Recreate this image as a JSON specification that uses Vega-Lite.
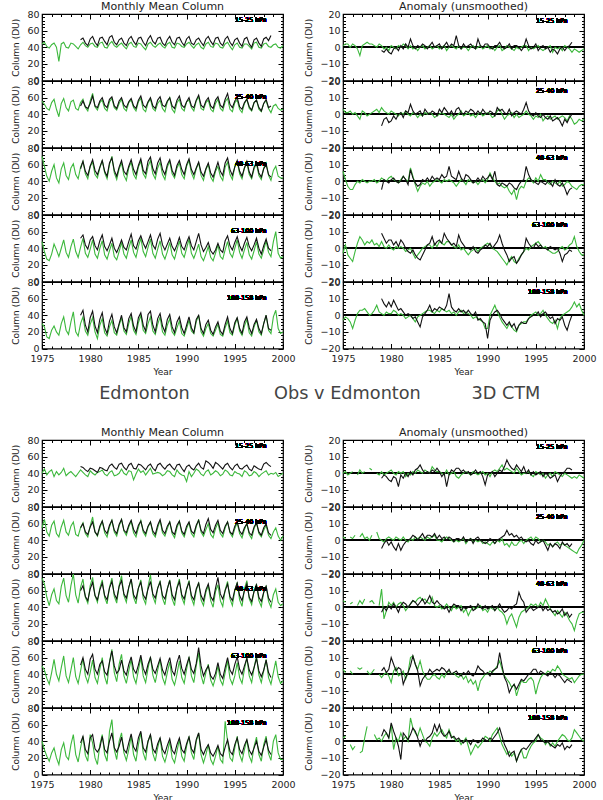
{
"$schema":"https://vega.github.io/schema/vega-lite/v6.json",
"padding":{"left":10,"top":0,"right":0,"bottom":0},
"config":{
"font":"DejaVu Sans",
"view":{"stroke":"#000","strokeWidth":1.2},
"line":{"color":"#3cb83c","strokeWidth":1.1},
"text":{"fontSize":6.3,"align":"right","baseline":"middle","color":"#000"},
"rule":{"color":"#000","strokeWidth":1},
"title":{"fontSize":11,"fontWeight":"normal","frame":"group","offset":-3,"color":"#222"},
"axis":{"domain":false,"grid":false,"tickColor":"#000","tickWidth":1,"labelColor":"#222","labelFontSize":9.5,"titleColor":"#222","titleFontSize":9,"titleFontWeight":"normal","labelFlush":false,"labelOverlap":false},
"axisX":{"tickCount":25,"format":"d","tickSize":{"condition":{"test":"datum.value % 5 === 0","value":-5},"value":-2.5},"labelExpr":"datum.value % 5 === 0 ? datum.label : ''","labelPadding":10,"titlePadding":2},
"axisY":{"tickSize":{"condition":{"test":"datum.value % 10 === 0","value":-5},"value":-2.5},"labelExpr":"datum.value % 10 === 0 ? datum.label : ''","labelPadding":8,"titlePadding":6.5}
},
"data":{"values":[
{"t":1975,"A":44,"B":56,"C":70,"D":48,"E":30,"F":1,"G":3,"H":6,"I":-3,"J":-3,"K":40,"L":55,"M":75,"N":50,"O":40,"P":0,"Q":2,"R":4,"S":3,"U":2},
{"t":1975.25,"A":46,"B":52,"C":58,"D":36,"E":26,"F":2,"G":1,"H":1,"I":2,"J":-1,"K":45,"L":65,"M":68,"N":45,"O":30,"P":1,"Q":1,"R":3,"S":1,"U":3},
{"t":1975.5,"A":41,"B":47,"C":46,"D":27,"E":14,"F":2,"G":1,"H":-3,"I":-4,"J":-2,"K":38,"L":50,"M":52,"N":35,"O":22,"P":-1},
{"t":1975.75,"A":39,"B":45,"C":40,"D":25,"E":12,"F":0,"G":2,"H":-5,"I":-6,"J":-4,"K":42,"L":45,"M":42,"N":28,"O":16,"P":0,"Q":2,"R":2,"S":2,"U":-2},
{"t":1976,"A":43,"B":54,"C":52,"D":33,"E":22,"F":2,"G":0,"H":-5,"I":-8,"J":-8,"K":44,"L":58,"M":55,"N":42,"O":26,"P":1,"Q":1,"R":3,"S":0,"U":-5},
{"t":1976.25,"A":45,"B":58,"C":60,"D":45,"E":27,"F":1,"G":1,"H":-2,"I":-2,"J":-3,"K":36,"L":63,"M":62,"N":58,"O":32,"Q":3,"U":-3},
{"t":1976.5,"A":40,"B":46,"C":44,"D":38,"E":20,"F":-1,"G":-1,"H":0,"I":3,"J":1,"K":42,"L":48,"M":48,"N":40,"O":20,"P":-1,"R":1,"S":4},
{"t":1976.75,"A":23,"B":37,"C":38,"D":30,"E":16,"F":-5,"G":-3,"H":-1,"I":7,"J":3,"K":38,"L":44,"M":44,"N":32,"O":12,"P":2,"Q":2,"R":4,"S":3,"U":-7},
{"t":1977,"A":44,"B":53,"C":55,"D":40,"E":30,"F":1,"G":2,"H":1,"I":5,"J":3,"K":41,"L":56,"M":65,"N":48,"O":30,"P":0,"Q":4,"R":2,"S":4,"U":-6},
{"t":1977.25,"A":46,"B":59,"C":62,"D":50,"E":38,"F":2,"G":1,"H":0,"I":2,"J":4,"K":46,"L":64,"M":75,"N":62,"O":38,"P":1,"Q":1,"R":5,"U":2},
{"t":1977.5,"A":40,"B":48,"C":47,"D":35,"E":22,"F":3,"G":-1,"H":-1,"I":4,"J":2,"K":37,"L":50,"M":54,"N":38,"O":22,"Q":2,"S":2,"U":9},
{"t":1977.75,"A":39,"B":44,"C":42,"D":29,"E":17,"F":2,"G":0,"H":0,"I":3,"J":0,"K":40,"L":46,"M":46,"N":30,"O":18,"P":3,"Q":0,"R":3,"S":0},
{"t":1978,"A":45,"B":55,"C":56,"D":42,"E":32,"F":2,"G":1,"H":0,"I":5,"J":1,"K":42,"L":57,"M":66,"N":45,"O":36,"P":2,"Q":3,"R":4,"S":1},
{"t":1978.25,"A":44,"B":57,"C":61,"D":51,"E":44,"F":1,"G":2,"H":1,"I":2,"J":3,"K":39,"L":62,"M":80,"N":60,"O":48,"R":2,"S":3,"U":4},
{"t":1978.5,"A":41,"B":47,"C":48,"D":36,"E":20,"F":0,"G":3,"H":-1,"I":3,"J":6,"K":36,"L":47,"M":55,"N":37,"O":24,"P":0,"Q":5,"U":1},
{"t":1978.75,"A":38,"B":45,"C":43,"D":29,"E":15,"F":2,"G":1,"H":0,"I":1,"J":2,"K":40,"L":45,"M":45,"N":29,"O":15,"P":-1,"Q":1,"R":1,"S":0,"U":2},
{"t":1979,"A":43,"B":54,"C":57,"D":41,"E":30,"F":1,"G":4,"H":2,"I":4,"J":1,"K":44,"L":55,"M":64,"N":44,"O":32,"P":1,"Q":0,"R":11,"S":-2,"U":0,"a":49,"b":50,"c":55,"d":52,"e":40,"f":-2,"g":-7,"h":-5,"i":9,"j":10,"k":48,"l":55,"m":60,"n":51,"o":38,"p":-3,"q":-5,"r":-3,"s":2,"u":3},
{"t":1979.25,"A":46,"B":58,"C":64,"D":52,"E":38,"F":-1,"G":2,"H":1,"I":1,"J":0,"K":41,"L":61,"M":74,"N":59,"O":46,"P":-1,"Q":-1,"R":-7,"S":0,"U":3,"a":51,"b":56,"c":64,"d":56,"e":46,"f":-3,"g":-3,"h":1,"i":6,"j":7,"k":47,"l":60,"m":66,"n":60,"o":46,"p":-1,"q":-2,"r":0,"s":4,"u":7},
{"t":1979.5,"A":42,"B":48,"C":49,"D":34,"E":21,"F":0,"G":1,"H":0,"I":0,"J":2,"K":38,"L":48,"M":52,"N":38,"O":23,"P":0,"Q":1,"R":-2,"S":1,"U":5,"a":45,"b":49,"c":52,"d":44,"e":28,"f":-1,"g":-2,"h":0,"i":3,"j":5,"k":44,"l":50,"m":53,"n":46,"o":30,"p":-2,"q":0,"r":-2,"s":1,"u":5},
{"t":1979.75,"A":40,"B":44,"C":43,"D":29,"E":16,"F":-2,"G":0,"H":2,"I":2,"J":1,"K":36,"L":44,"M":45,"N":30,"O":16,"P":1,"Q":2,"R":3,"S":-1,"U":2,"a":42,"b":47,"c":47,"d":39,"e":20,"f":-3,"g":-5,"h":-1,"i":5,"j":8,"k":42,"l":47,"m":48,"n":40,"o":25,"p":-4,"q":-3,"r":1,"s":3,"u":2},
{"t":1980,"A":44,"B":56,"C":58,"D":39,"E":29,"F":1,"G":2,"H":3,"I":0,"J":1,"K":43,"L":57,"M":66,"N":42,"O":48,"P":2,"Q":1,"R":1,"S":-5,"U":10,"a":50,"b":53,"c":58,"d":50,"e":37,"f":-4,"g":-4,"h":1,"i":5,"j":5,"k":46,"l":56,"m":62,"n":58,"o":44,"p":-5,"q":-1,"r":-1,"s":10,"u":11},
{"t":1980.25,"A":45,"B":65,"C":63,"D":50,"E":37,"F":0,"G":1,"H":1,"I":-1,"J":3,"K":40,"L":68,"M":76,"N":57,"O":38,"P":0,"Q":0,"R":3,"S":2,"U":-5,"a":53,"b":62,"c":66,"d":54,"e":45,"f":-1,"g":-1,"h":2,"i":2,"j":9,"k":45,"l":62,"m":70,"n":64,"o":48,"p":-2,"q":-4,"r":2,"s":6,"u":6},
{"t":1980.5,"A":41,"B":49,"C":48,"D":33,"E":20,"F":-1,"G":0,"H":0,"I":1,"J":2,"K":38,"L":50,"M":54,"N":36,"O":20,"P":-1,"Q":2,"R":0,"S":4,"U":2,"a":46,"b":50,"c":53,"d":43,"e":27,"f":0,"g":-3,"h":0,"i":4,"j":6,"k":43,"l":50,"m":54,"n":46,"o":31,"p":-3,"q":-6,"r":0,"s":2,"u":2},
{"t":1980.75,"A":40,"B":45,"C":44,"D":28,"E":12,"F":1,"G":-1,"H":-1,"I":0,"J":0,"K":41,"L":45,"M":46,"N":29,"O":12,"P":1,"Q":1,"R":2,"S":-1,"U":0,"a":42,"b":48,"c":48,"d":38,"e":19,"f":-2,"g":0,"h":-1,"i":1,"j":3,"k":41,"l":46,"m":49,"n":40,"o":27,"p":-8,"q":-2,"r":-3,"s":4,"u":-3},
{"t":1981,"A":45,"B":54,"C":56,"D":40,"E":28,"F":0,"G":1,"H":1,"I":1,"J":1,"K":42,"L":55,"M":63,"N":46,"O":36,"P":0,"Q":0,"R":3,"S":0,"U":5,"a":51,"b":56,"c":57,"d":49,"e":35,"f":1,"g":1,"h":0,"i":5,"j":4,"k":47,"l":57,"m":61,"n":52,"o":32,"p":-1,"q":-6,"r":1,"s":3,"u":-11},
{"t":1981.25,"A":46,"B":57,"C":65,"D":49,"E":36,"F":2,"G":0,"H":3,"I":0,"J":0,"K":44,"L":63,"M":73,"N":60,"O":48,"P":1,"Q":2,"R":1,"S":2,"U":1,"a":52,"b":60,"c":65,"d":56,"e":43,"f":-1,"g":-2,"h":3,"i":3,"j":2,"k":46,"l":63,"m":69,"n":56,"o":46,"p":-3,"q":-3,"r":3,"s":-6,"u":5},
{"t":1981.5,"A":40,"B":47,"C":50,"D":32,"E":19,"F":1,"G":2,"H":1,"I":-2,"J":-2,"K":39,"L":49,"M":52,"N":37,"O":24,"P":-2,"Q":0,"R":-2,"S":-3,"U":3,"a":47,"b":51,"c":52,"d":42,"e":25,"f":2,"g":2,"h":1,"i":0,"j":0,"k":44,"l":52,"m":54,"n":43,"o":30,"p":0,"q":-1,"r":2,"s":-2,"u":3},
{"t":1981.75,"A":39,"B":44,"C":43,"D":27,"E":15,"F":-1,"G":0,"H":0,"I":-1,"J":-1,"K":37,"L":44,"M":44,"N":28,"O":16,"P":0,"Q":-1,"R":0,"S":1,"U":0,"a":43,"b":48,"c":46,"d":37,"e":18,"f":0,"g":1,"h":-2,"i":-2,"j":1,"k":43,"l":48,"m":49,"n":39,"o":26,"p":-2,"q":0,"r":0,"s":1,"u":1},
{"t":1982,"A":44,"B":55,"C":60,"D":37,"E":26,"F":1,"G":-1,"H":8,"I":0,"J":0,"K":41,"L":56,"M":64,"N":55,"O":52,"P":-1,"Q":1,"R":2,"S":10,"U":14,"a":52,"b":58,"c":62,"d":44,"e":33,"f":5,"g":6,"h":7,"i":-3,"j":0,"k":49,"l":58,"m":63,"n":54,"o":40,"p":1,"q":1,"r":2,"s":5,"u":4},
{"t":1982.25,"A":47,"B":59,"C":70,"D":46,"E":34,"F":-1,"G":1,"H":3,"I":-3,"J":-2,"K":43,"L":64,"M":75,"N":70,"O":66,"P":1,"Q":0,"R":4,"S":11,"U":8,"a":54,"b":61,"c":68,"d":52,"e":41,"f":1,"g":2,"h":2,"i":-1,"j":-2,"k":51,"l":64,"m":71,"n":68,"o":50,"p":-1,"q":3,"r":4,"s":11,"u":8},
{"t":1982.5,"A":42,"B":48,"C":50,"D":30,"E":19,"F":0,"G":0,"H":-2,"I":-6,"J":-4,"K":37,"L":50,"M":53,"N":42,"O":30,"P":0,"Q":2,"R":3,"S":6,"U":5,"a":46,"b":50,"c":53,"d":40,"e":26,"f":-1,"g":0,"h":-1,"i":-4,"j":-1,"k":47,"l":52,"m":56,"n":50,"o":32,"p":2,"q":2,"r":3,"s":6,"u":6},
{"t":1982.75,"A":40,"B":45,"C":42,"D":26,"E":16,"F":-2,"G":-2,"H":-6,"I":-4,"J":-1,"K":38,"L":45,"M":45,"N":31,"O":18,"P":2,"Q":1,"R":5,"S":3,"U":3,"a":43,"b":47,"c":46,"d":35,"e":19,"f":1,"g":1,"h":-3,"i":-6,"j":-4,"k":45,"l":48,"m":50,"n":41,"o":27,"p":3,"q":0,"r":1,"s":2,"u":2},
{"t":1983,"A":43,"B":53,"C":55,"D":36,"E":28,"F":0,"G":0,"H":-3,"I":-2,"J":0,"K":40,"L":57,"M":66,"N":52,"O":40,"P":1,"Q":2,"R":6,"S":8,"U":8,"a":49,"b":56,"c":57,"d":42,"e":30,"f":0,"g":2,"h":-2,"i":-7,"j":-7,"k":51,"l":59,"m":65,"n":45,"o":34,"p":5,"q":2,"r":3,"s":-7,"u":-3},
{"t":1983.25,"A":45,"B":58,"C":62,"D":47,"E":37,"F":1,"G":-1,"H":-1,"I":0,"J":1,"K":45,"L":65,"M":78,"N":64,"O":50,"P":0,"Q":1,"R":4,"S":2,"U":4,"a":51,"b":60,"c":65,"d":50,"e":40,"f":2,"g":-1,"h":1,"i":-4,"j":-1,"k":52,"l":65,"m":72,"n":57,"o":45,"p":2,"q":4,"r":5,"s":-3,"u":1},
{"t":1983.5,"A":41,"B":47,"C":47,"D":33,"E":21,"F":-1,"G":1,"H":-2,"I":1,"J":2,"K":40,"L":51,"M":54,"N":38,"O":26,"P":2,"Q":0,"R":5,"S":-1,"U":0,"a":45,"b":51,"c":52,"d":41,"e":25,"f":1,"g":3,"h":0,"i":-1,"j":1,"k":47,"l":52,"m":56,"n":44,"o":30,"p":0,"q":1,"r":2,"s":-1,"u":0},
{"t":1983.75,"A":38,"B":44,"C":41,"D":28,"E":17,"F":0,"G":0,"H":0,"I":2,"J":3,"K":38,"L":46,"M":46,"N":29,"O":17,"P":1,"Q":2,"R":3,"S":-3,"U":-1,"a":42,"b":48,"c":48,"d":38,"e":20,"f":-1,"g":1,"h":2,"i":2,"j":3,"k":44,"l":49,"m":51,"n":39,"o":26,"p":1,"q":3,"r":4,"s":0,"u":2},
{"t":1984,"A":44,"B":54,"C":56,"D":40,"E":30,"F":1,"G":1,"H":-3,"I":2,"J":3,"K":43,"L":56,"M":64,"N":44,"O":30,"P":0,"Q":1,"R":2,"S":-3,"U":-3,"a":50,"b":55,"c":58,"d":48,"e":36,"f":1,"g":0,"h":0,"i":3,"j":6,"k":50,"l":58,"m":64,"n":52,"o":38,"p":0,"q":3,"r":7,"s":3,"u":3},
{"t":1984.25,"A":46,"B":57,"C":63,"D":50,"E":39,"F":-1,"G":0,"H":-1,"I":0,"J":2,"K":42,"L":63,"M":74,"N":58,"O":46,"P":4,"Q":2,"R":6,"S":-1,"U":2,"a":53,"b":59,"c":66,"d":57,"e":42,"f":3,"g":2,"h":3,"i":7,"j":2,"k":52,"l":64,"m":74,"n":61,"o":49,"p":2,"q":2,"r":3,"s":1,"u":5},
{"t":1984.5,"A":41,"B":48,"C":48,"D":35,"E":22,"F":0,"G":-2,"H":0,"I":3,"J":1,"K":32,"L":49,"M":52,"N":37,"O":24,"P":2,"Q":3,"R":1,"S":0,"U":5,"a":47,"b":50,"c":54,"d":43,"e":27,"f":0,"g":1,"h":1,"i":2,"j":4,"k":46,"l":53,"m":55,"n":46,"o":33,"p":1,"q":4,"r":2,"s":2,"u":10},
{"t":1984.75,"A":40,"B":44,"C":43,"D":29,"E":17,"F":1,"G":-1,"H":1,"I":1,"J":3,"K":39,"L":44,"M":44,"N":29,"O":16,"P":1,"Q":0,"R":0,"S":-2,"U":3,"a":43,"b":47,"c":48,"d":39,"e":20,"f":1,"g":-1,"h":2,"i":4,"j":3,"k":45,"l":48,"m":50,"n":41,"o":28,"p":3,"q":1,"r":4,"s":3,"u":6},
{"t":1985,"A":45,"B":55,"C":57,"D":42,"E":31,"F":-1,"G":0,"H":0,"I":4,"J":2,"K":45,"L":55,"M":63,"N":45,"O":36,"P":1,"Q":0,"R":1,"S":-3,"U":5,"a":51,"b":57,"c":59,"d":49,"e":37,"f":2,"g":3,"h":1,"i":5,"j":5,"k":51,"l":58,"m":63,"n":51,"o":44,"p":1,"q":3,"r":2,"s":2,"u":10},
{"t":1985.25,"A":44,"B":59,"C":64,"D":52,"E":40,"F":0,"G":1,"H":-1,"I":3,"J":4,"K":41,"L":64,"M":73,"N":60,"O":50,"P":0,"Q":-1,"R":-1,"S":0,"U":7,"a":52,"b":62,"c":67,"d":55,"e":43,"f":-1,"g":1,"h":4,"i":3,"j":4,"k":50,"l":63,"m":70,"n":63,"o":52,"p":-2,"q":1,"r":1,"s":4,"u":5},
{"t":1985.5,"A":40,"B":46,"C":49,"D":36,"E":22,"F":1,"G":0,"H":1,"I":2,"J":3,"K":43,"L":50,"M":51,"N":38,"O":26,"P":-1,"Q":1,"R":0,"S":-2,"U":4,"a":46,"b":51,"c":53,"d":46,"e":28,"f":1,"g":4,"h":2,"i":9,"j":3,"k":47,"l":52,"m":55,"n":47,"o":32,"p":0,"q":2,"r":-1,"s":3,"u":3},
{"t":1985.75,"A":37,"B":43,"C":44,"D":30,"E":18,"F":-2,"G":-1,"H":0,"I":4,"J":2,"K":38,"L":45,"M":44,"N":30,"O":17,"P":2,"Q":2,"R":2,"S":1,"U":2,"a":42,"b":48,"c":49,"d":40,"e":21,"f":3,"g":2,"h":3,"i":6,"j":6,"k":44,"l":48,"m":50,"n":40,"o":27,"p":-8,"q":0,"r":0,"s":1,"u":4},
{"t":1986,"A":44,"B":54,"C":58,"D":41,"E":30,"F":0,"G":-2,"H":1,"I":4,"J":3,"K":42,"L":56,"M":65,"N":47,"O":40,"P":-1,"Q":1,"R":0,"S":2,"U":7,"a":50,"b":55,"c":64,"d":48,"e":41,"f":0,"g":0,"h":9,"i":4,"j":13,"k":49,"l":57,"m":62,"n":52,"o":40,"p":-1,"q":2,"r":-3,"s":3,"u":6},
{"t":1986.25,"A":46,"B":58,"C":65,"D":51,"E":38,"F":1,"G":0,"H":0,"I":2,"J":1,"K":46,"L":62,"M":79,"N":61,"O":48,"P":0,"Q":0,"R":-2,"S":0,"U":3,"a":54,"b":60,"c":69,"d":56,"e":45,"f":2,"g":2,"h":3,"i":2,"j":5,"k":51,"l":62,"m":71,"n":60,"o":48,"p":2,"q":1,"r":0,"s":0,"u":2},
{"t":1986.5,"A":42,"B":47,"C":49,"D":34,"E":21,"F":0,"G":-3,"H":-1,"I":1,"J":2,"K":39,"L":48,"M":53,"N":39,"O":25,"P":1,"Q":-1,"R":1,"S":1,"U":2,"a":47,"b":50,"c":55,"d":44,"e":28,"f":1,"g":-1,"h":2,"i":3,"j":3,"k":46,"l":51,"m":56,"n":46,"o":31,"p":1,"q":-1,"r":2,"s":1,"u":3},
{"t":1986.75,"A":40,"B":44,"C":43,"D":28,"E":17,"F":-1,"G":-1,"H":-3,"I":0,"J":0,"K":40,"L":44,"M":45,"N":30,"O":16,"P":-2,"Q":0,"R":-1,"S":-1,"U":0,"a":44,"b":47,"c":49,"d":39,"e":20,"f":7,"g":3,"h":1,"i":1,"j":2,"k":43,"l":47,"m":51,"n":41,"o":26,"p":3,"q":1,"r":1,"s":2,"u":1},
{"t":1987,"A":43,"B":53,"C":56,"D":39,"E":29,"F":1,"G":0,"H":-1,"I":2,"J":2,"K":41,"L":55,"M":63,"N":45,"O":32,"P":-3,"Q":-1,"R":0,"S":-2,"U":1,"a":51,"b":57,"c":62,"d":51,"e":36,"f":1,"g":4,"h":6,"i":8,"j":4,"k":50,"l":58,"m":63,"n":50,"o":37,"p":3,"q":1,"r":1,"s":0,"u":2},
{"t":1987.25,"A":45,"B":57,"C":63,"D":49,"E":38,"F":-1,"G":2,"H":1,"I":-1,"J":3,"K":40,"L":64,"M":72,"N":58,"O":44,"P":-1,"Q":0,"R":1,"S":0,"U":-2,"a":52,"b":61,"c":68,"d":58,"e":42,"f":-1,"g":1,"h":2,"i":4,"j":2,"k":52,"l":65,"m":70,"n":59,"o":44,"p":1,"q":0,"r":-2,"s":-1,"u":0},
{"t":1987.5,"A":41,"B":47,"C":48,"D":33,"E":20,"F":0,"G":-1,"H":0,"I":0,"J":1,"K":37,"L":49,"M":51,"N":36,"O":22,"P":0,"Q":1,"R":-3,"S":-3,"U":0,"a":45,"b":51,"c":54,"d":44,"e":27,"f":2,"g":0,"h":0,"i":2,"j":3,"k":48,"l":52,"m":54,"n":45,"o":30,"p":2,"q":2,"r":0,"s":1,"u":-1},
{"t":1987.75,"A":39,"B":43,"C":42,"D":27,"E":16,"F":0,"G":0,"H":-2,"I":-2,"J":2,"K":39,"L":45,"M":43,"N":28,"O":15,"P":1,"Q":-2,"R":-1,"S":-1,"U":2,"a":42,"b":49,"c":48,"d":38,"e":20,"f":0,"g":2,"h":4,"i":0,"j":1,"k":45,"l":48,"m":50,"n":39,"o":25,"p":0,"q":-1,"r":-1,"s":0,"u":1},
{"t":1988,"A":44,"B":55,"C":57,"D":36,"E":28,"F":-2,"G":1,"H":1,"I":-4,"J":1,"K":43,"L":54,"M":62,"N":42,"O":26,"P":0,"Q":0,"R":-5,"S":-5,"U":-3,"a":49,"b":56,"c":60,"d":45,"e":35,"f":1,"g":1,"h":3,"i":0,"j":3,"k":49,"l":57,"m":62,"n":51,"o":35,"p":1,"q":0,"r":0,"s":2,"u":0},
{"t":1988.25,"A":46,"B":60,"C":64,"D":47,"E":36,"F":0,"G":-1,"H":0,"I":-2,"J":0,"K":42,"L":62,"M":73,"N":55,"O":40,"P":-1,"Q":1,"R":-2,"S":-3,"U":-8,"a":53,"b":60,"c":66,"d":52,"e":41,"f":2,"g":3,"h":1,"i":-1,"j":1,"k":51,"l":62,"m":72,"n":60,"o":43,"p":-1,"q":1,"r":1,"s":0,"u":-2},
{"t":1988.5,"A":40,"B":46,"C":49,"D":32,"E":20,"F":1,"G":0,"H":-1,"I":-1,"J":-2,"K":38,"L":48,"M":50,"N":34,"O":20,"P":1,"Q":-1,"R":0,"S":-6,"U":-5,"a":46,"b":50,"c":53,"d":42,"e":26,"f":0,"g":2,"h":-1,"i":1,"j":0,"k":47,"l":50,"m":55,"n":44,"o":29,"p":0,"q":-2,"r":-2,"s":-1,"u":1},
{"t":1988.75,"A":39,"B":42,"C":44,"D":27,"E":16,"F":-1,"G":-2,"H":0,"I":0,"J":-1,"K":36,"L":43,"M":42,"N":27,"O":14,"P":0,"Q":0,"R":-1,"S":-4,"U":-2,"a":43,"b":47,"c":47,"d":37,"e":19,"f":-1,"g":0,"h":0,"i":-2,"j":2,"k":44,"l":47,"m":49,"n":39,"o":25,"p":2,"q":1,"r":-1,"s":1,"u":0},
{"t":1989,"A":45,"B":54,"C":56,"D":38,"E":25,"F":0,"G":0,"H":-2,"I":-2,"J":-2,"K":44,"L":55,"M":64,"N":40,"O":28,"P":-1,"Q":-1,"R":0,"S":-10,"U":-4,"a":51,"b":57,"c":59,"d":44,"e":32,"f":5,"g":2,"h":2,"i":-3,"j":-3,"k":50,"l":58,"m":63,"n":54,"o":36,"p":0,"q":2,"r":2,"s":5,"u":-1},
{"t":1989.25,"A":44,"B":58,"C":62,"D":49,"E":33,"F":1,"G":1,"H":0,"I":0,"J":-3,"K":40,"L":63,"M":74,"N":56,"O":42,"P":0,"Q":0,"R":1,"S":-4,"U":-2,"a":52,"b":62,"c":65,"d":53,"e":38,"f":1,"g":0,"h":0,"i":-1,"j":-2,"k":51,"l":63,"m":71,"n":63,"o":44,"p":1,"q":0,"r":0,"s":3,"u":0},
{"t":1989.5,"A":41,"B":47,"C":48,"D":34,"E":18,"F":-1,"G":-1,"H":1,"I":1,"J":-4,"K":38,"L":49,"M":52,"N":36,"O":22,"P":1,"Q":-2,"R":-2,"S":-2,"U":0,"a":46,"b":51,"c":54,"d":42,"e":25,"f":0,"g":3,"h":3,"i":0,"j":-4,"k":46,"l":51,"m":55,"n":47,"o":30,"p":-2,"q":-1,"r":-1,"s":2,"u":2},
{"t":1989.75,"A":40,"B":44,"C":43,"D":29,"E":15,"F":0,"G":0,"H":-1,"I":2,"J":-8,"K":37,"L":44,"M":44,"N":29,"O":16,"P":-1,"Q":-1,"R":-1,"S":0,"U":3,"a":42,"b":48,"c":48,"d":38,"e":18,"f":2,"g":1,"h":1,"i":2,"j":-5,"k":42,"l":47,"m":50,"n":40,"o":26,"p":-7,"q":-2,"r":1,"s":0,"u":1},
{"t":1990,"A":44,"B":55,"C":58,"D":40,"E":24,"F":1,"G":1,"H":1,"I":3,"J":-8,"K":30,"L":54,"M":62,"N":46,"O":34,"P":0,"Q":-2,"R":-3,"S":0,"U":2,"a":50,"b":55,"c":60,"d":47,"e":28,"f":2,"g":0,"h":2,"i":1,"j":-14,"k":48,"l":57,"m":62,"n":51,"o":37,"p":-1,"q":-1,"r":-1,"s":1,"u":0},
{"t":1990.25,"A":46,"B":57,"C":65,"D":51,"E":34,"F":-1,"G":0,"H":5,"I":2,"J":0,"K":42,"L":61,"M":72,"N":61,"O":46,"P":-2,"Q":-3,"R":0,"S":2,"U":0,"a":53,"b":60,"c":67,"d":54,"e":38,"f":0,"g":2,"h":4,"i":3,"j":-3,"k":50,"l":62,"m":70,"n":60,"o":45,"p":0,"q":1,"r":0,"s":-1,"u":2},
{"t":1990.5,"A":42,"B":48,"C":50,"D":34,"E":21,"F":0,"G":-2,"H":2,"I":0,"J":3,"K":36,"L":48,"M":51,"N":38,"O":26,"P":1,"Q":-1,"R":-1,"S":1,"U":4,"a":45,"b":50,"c":54,"d":43,"e":25,"f":-1,"g":1,"h":1,"i":0,"j":0,"k":46,"l":51,"m":54,"n":46,"o":31,"p":1,"q":0,"r":1,"s":2,"u":1},
{"t":1990.75,"A":39,"B":44,"C":43,"D":28,"E":18,"F":-2,"G":-1,"H":0,"I":-1,"J":6,"K":40,"L":44,"M":43,"N":30,"O":18,"P":2,"Q":-2,"R":-2,"S":3,"U":6,"a":43,"b":48,"c":48,"d":38,"e":19,"f":1,"g":-1,"h":6,"i":2,"j":2,"k":44,"l":48,"m":49,"n":41,"o":26,"p":-2,"q":-2,"r":-2,"s":3,"u":3},
{"t":1991,"A":43,"B":56,"C":55,"D":36,"E":32,"F":0,"G":2,"H":-2,"I":-2,"J":2,"K":45,"L":56,"M":60,"N":50,"O":40,"P":1,"Q":0,"R":0,"S":5,"U":8,"a":49,"b":57,"c":56,"d":48,"e":35,"f":1,"g":4,"h":-2,"i":4,"j":3,"k":49,"l":58,"m":62,"n":53,"o":42,"p":0,"q":0,"r":0,"s":4,"u":5},
{"t":1991.25,"A":45,"B":61,"C":62,"D":45,"E":40,"F":1,"G":3,"H":-1,"I":-4,"J":-1,"K":43,"L":65,"M":70,"N":66,"O":50,"P":3,"Q":-1,"R":-2,"S":8,"U":3,"a":51,"b":63,"c":63,"d":58,"e":40,"f":3,"g":2,"h":-3,"i":8,"j":1,"k":52,"l":64,"m":69,"n":72,"o":50,"p":2,"q":1,"r":2,"s":13,"u":8},
{"t":1991.5,"A":40,"B":47,"C":47,"D":30,"E":20,"F":-2,"G":0,"H":-3,"I":-6,"J":-4,"K":39,"L":50,"M":49,"N":39,"O":24,"P":5,"Q":1,"R":-3,"S":3,"U":-2,"a":46,"b":51,"c":51,"d":44,"e":24,"f":0,"g":3,"h":-1,"i":3,"j":-2,"k":47,"l":52,"m":54,"n":50,"o":30,"p":1,"q":2,"r":-1,"s":5,"u":3},
{"t":1991.75,"A":38,"B":45,"C":41,"D":25,"E":15,"F":-1,"G":-3,"H":-4,"I":-8,"J":-6,"K":37,"L":45,"M":42,"N":28,"O":14,"P":2,"Q":-3,"R":-5,"S":-1,"U":-5,"a":42,"b":48,"c":46,"d":36,"e":18,"f":-1,"g":1,"h":-2,"i":-1,"j":-4,"k":45,"l":48,"m":48,"n":38,"o":24,"p":4,"q":3,"r":-3,"s":-2,"u":-2},
{"t":1992,"A":44,"B":54,"C":54,"D":33,"E":24,"F":1,"G":-1,"H":-3,"I":-10,"J":-8,"K":42,"L":53,"M":58,"N":42,"O":24,"P":3,"Q":-2,"R":-10,"S":-3,"U":-8,"a":50,"b":56,"c":55,"d":41,"e":29,"f":0,"g":0,"h":-3,"i":-4,"j":-6,"k":55,"l":59,"m":61,"n":45,"o":31,"p":8,"q":6,"r":-2,"s":-5,"u":-5},
{"t":1992.25,"A":46,"B":57,"C":60,"D":42,"E":30,"F":0,"G":0,"H":-6,"I":-7,"J":-5,"K":44,"L":60,"M":66,"N":52,"O":36,"P":2,"Q":-4,"R":-6,"S":-5,"U":-6,"a":53,"b":60,"c":62,"d":47,"e":34,"f":2,"g":3,"h":-1,"i":-8,"j":-4,"k":53,"l":66,"m":68,"n":50,"o":36,"p":5,"q":3,"r":0,"s":-11,"u":-9},
{"t":1992.5,"A":41,"B":46,"C":45,"D":29,"E":18,"F":-1,"G":1,"H":-8,"I":-5,"J":-7,"K":38,"L":47,"M":48,"N":33,"O":18,"P":1,"Q":-1,"R":-4,"S":-8,"U":-9,"a":47,"b":50,"c":50,"d":37,"e":22,"f":-1,"g":-1,"h":-2,"i":-6,"j":-7,"k":50,"l":53,"m":53,"n":38,"o":26,"p":3,"q":4,"r":-1,"s":-8,"u":-7},
{"t":1992.75,"A":40,"B":43,"C":40,"D":25,"E":15,"F":-2,"G":-2,"H":-5,"I":-8,"J":-9,"K":40,"L":43,"M":40,"N":26,"O":12,"P":0,"Q":-3,"R":-8,"S":-6,"U":-7,"a":43,"b":47,"c":45,"d":33,"e":17,"f":1,"g":1,"h":-4,"i":-5,"j":-5,"k":46,"l":49,"m":48,"n":34,"o":22,"p":2,"q":2,"r":1,"s":-6,"u":-6},
{"t":1993,"A":45,"B":53,"C":52,"D":34,"E":22,"F":0,"G":0,"H":-11,"I":-9,"J":-10,"K":43,"L":54,"M":59,"N":36,"O":22,"P":3,"Q":-3,"R":-12,"S":-13,"U":-12,"a":51,"b":57,"c":54,"d":38,"e":26,"f":1,"g":2,"h":-5,"i":-9,"j":-9,"k":53,"l":58,"m":63,"n":41,"o":28,"p":5,"q":3,"r":2,"s":-9,"u":-12},
{"t":1993.25,"A":44,"B":58,"C":58,"D":44,"E":29,"F":-1,"G":-2,"H":-5,"I":-6,"J":-6,"K":41,"L":61,"M":67,"N":50,"O":34,"P":1,"Q":-1,"R":-6,"S":-8,"U":-8,"a":52,"b":61,"c":63,"d":46,"e":32,"f":0,"g":1,"h":-2,"i":-7,"j":-6,"k":51,"l":64,"m":76,"n":54,"o":35,"p":3,"q":1,"r":9,"s":-6,"u":-8},
{"t":1993.5,"A":40,"B":47,"C":46,"D":30,"E":17,"F":0,"G":-1,"H":-3,"I":-4,"J":-5,"K":37,"L":48,"M":48,"N":33,"O":18,"P":-1,"Q":0,"R":-3,"S":-4,"U":-5,"a":45,"b":51,"c":52,"d":38,"e":21,"f":-2,"g":0,"h":0,"i":-4,"j":-4,"k":48,"l":52,"m":56,"n":40,"o":25,"p":1,"q":2,"r":5,"s":-3,"u":-5},
{"t":1993.75,"A":39,"B":44,"C":41,"D":27,"E":15,"F":1,"G":0,"H":-4,"I":-2,"J":-4,"K":39,"L":44,"M":41,"N":27,"O":14,"P":0,"Q":-2,"R":-2,"S":-5,"U":-10,"a":42,"b":48,"c":47,"d":35,"e":17,"f":0,"g":3,"h":1,"i":-2,"j":-5,"k":45,"l":48,"m":50,"n":35,"o":22,"p":4,"q":0,"r":3,"s":-4,"u":-4},
{"t":1994,"A":44,"B":55,"C":57,"D":38,"E":25,"F":1,"G":2,"H":0,"I":0,"J":-4,"K":44,"L":55,"M":61,"N":42,"O":64,"P":0,"Q":0,"R":-1,"S":-5,"U":-10,"a":50,"b":58,"c":62,"d":49,"e":29,"f":5,"g":7,"h":9,"i":6,"j":-5,"k":50,"l":57,"m":60,"n":48,"o":33,"p":0,"q":-1,"r":-3,"s":-2,"u":-5},
{"t":1994.25,"A":46,"B":59,"C":63,"D":48,"E":33,"F":-2,"G":0,"H":2,"I":-1,"J":-2,"K":42,"L":62,"M":71,"N":56,"O":40,"P":1,"Q":1,"R":0,"S":-3,"U":-6,"a":53,"b":65,"c":68,"d":55,"e":38,"f":1,"g":2,"h":4,"i":3,"j":-2,"k":52,"l":62,"m":68,"n":60,"o":42,"p":2,"q":0,"r":-1,"s":0,"u":-3},
{"t":1994.5,"A":41,"B":46,"C":48,"D":34,"E":19,"F":0,"G":-1,"H":1,"I":1,"J":0,"K":38,"L":49,"M":50,"N":35,"O":20,"P":-1,"Q":2,"R":2,"S":-2,"U":-3,"a":46,"b":52,"c":54,"d":43,"e":24,"f":-1,"g":0,"h":1,"i":1,"j":-1,"k":47,"l":50,"m":53,"n":45,"o":28,"p":-1,"q":-2,"r":0,"s":1,"u":-1},
{"t":1994.75,"A":37,"B":43,"C":42,"D":29,"E":16,"F":-1,"G":-3,"H":-1,"I":2,"J":1,"K":37,"L":44,"M":42,"N":28,"O":16,"P":-2,"Q":0,"R":1,"S":-4,"U":-1,"a":42,"b":48,"c":47,"d":38,"e":18,"f":0,"g":-1,"h":0,"i":0,"j":0,"k":44,"l":47,"m":48,"n":40,"o":24,"p":1,"q":-3,"r":-2,"s":3,"u":0},
{"t":1995,"A":43,"B":54,"C":58,"D":40,"E":28,"F":0,"G":-1,"H":2,"I":3,"J":2,"K":42,"L":54,"M":60,"N":38,"O":32,"P":1,"Q":2,"R":2,"S":-12,"U":0,"a":49,"b":56,"c":57,"d":47,"e":31,"f":2,"g":1,"h":-1,"i":3,"j":0,"k":49,"l":57,"m":61,"n":52,"o":36,"p":-1,"q":0,"r":-1,"s":3,"u":2},
{"t":1995.25,"A":45,"B":57,"C":64,"D":50,"E":37,"F":1,"G":-2,"H":0,"I":4,"J":0,"K":40,"L":61,"M":70,"N":54,"O":46,"P":0,"Q":1,"R":0,"S":-6,"U":4,"a":51,"b":60,"c":65,"d":54,"e":37,"f":-2,"g":-1,"h":-2,"i":1,"j":2,"k":51,"l":62,"m":69,"n":61,"o":44,"p":0,"q":-2,"r":0,"s":0,"u":4},
{"t":1995.5,"A":40,"B":46,"C":49,"D":35,"E":21,"F":-1,"G":0,"H":4,"I":2,"J":1,"K":39,"L":48,"M":49,"N":36,"O":24,"P":-1,"Q":-1,"R":3,"S":-2,"U":2,"a":45,"b":49,"c":52,"d":43,"e":24,"f":0,"g":-2,"h":0,"i":2,"j":-1,"k":46,"l":51,"m":54,"n":46,"o":30,"p":1,"q":-1,"r":1,"s":2,"u":1},
{"t":1995.75,"A":39,"B":42,"C":43,"D":28,"E":16,"F":-2,"G":-4,"H":1,"I":0,"J":3,"K":36,"L":43,"M":41,"N":29,"O":16,"P":0,"Q":0,"R":1,"S":0,"U":1,"a":41,"b":46,"c":46,"d":37,"e":18,"f":1,"g":0,"h":-1,"i":0,"j":1,"k":45,"l":47,"m":48,"n":40,"o":25,"p":-2,"q":0,"r":-2,"s":1,"u":0},
{"t":1996,"A":44,"B":53,"C":56,"D":38,"E":27,"F":-1,"G":-2,"H":1,"I":1,"J":0,"K":43,"L":53,"M":62,"N":46,"O":30,"P":-3,"Q":-1,"R":5,"S":0,"U":-2,"a":50,"b":54,"c":56,"d":46,"e":32,"f":-1,"g":-2,"h":-2,"i":0,"j":2,"k":48,"l":55,"m":60,"n":50,"o":35,"p":0,"q":-3,"r":0,"s":0,"u":-1},
{"t":1996.25,"A":44,"B":58,"C":62,"D":47,"E":35,"F":0,"G":-1,"H":-1,"I":-1,"J":-2,"K":41,"L":60,"M":72,"N":60,"O":42,"P":-1,"Q":-3,"R":2,"S":2,"U":0,"a":52,"b":58,"c":64,"d":53,"e":38,"f":0,"g":-3,"h":0,"i":-1,"j":0,"k":50,"l":60,"m":68,"n":59,"o":42,"p":-1,"q":-6,"r":-2,"s":-1,"u":0},
{"t":1996.5,"A":41,"B":47,"C":48,"D":32,"E":19,"F":1,"G":-3,"H":-2,"I":-2,"J":-4,"K":37,"L":47,"M":50,"N":38,"O":22,"P":0,"Q":-2,"R":-1,"S":1,"U":-3,"a":44,"b":49,"c":51,"d":42,"e":25,"f":-3,"g":-1,"h":-1,"i":1,"j":-2,"k":45,"l":49,"m":52,"n":45,"o":29,"p":-3,"q":-2,"r":-1,"s":1,"u":-2},
{"t":1996.75,"A":38,"B":44,"C":43,"D":27,"E":15,"F":-3,"G":-2,"H":0,"I":-3,"J":-5,"K":38,"L":42,"M":43,"N":30,"O":15,"P":-2,"Q":-4,"R":-3,"S":3,"U":-1,"a":40,"b":45,"c":45,"d":37,"e":18,"f":-1,"g":-4,"h":-3,"i":0,"j":-1,"k":43,"l":46,"m":47,"n":39,"o":24,"p":-2,"q":-4,"r":-3,"s":0,"u":-3},
{"t":1997,"A":45,"B":54,"C":55,"D":37,"E":26,"F":0,"G":-1,"H":-1,"I":-3,"J":-3,"K":42,"L":54,"M":60,"N":48,"O":34,"P":1,"Q":-2,"R":-5,"S":2,"U":-3,"a":49,"b":54,"c":57,"d":44,"e":29,"f":-2,"g":-3,"h":1,"i":-1,"j":-5,"k":49,"l":56,"m":59,"n":48,"o":32,"p":-1,"q":-2,"r":-2,"s":-2,"u":-4},
{"t":1997.25,"A":46,"B":57,"C":61,"D":48,"E":34,"F":-1,"G":-3,"H":-2,"I":-2,"J":-8,"K":40,"L":61,"M":68,"N":62,"O":45,"P":0,"Q":-1,"R":-2,"S":5,"U":0,"a":51,"b":57,"c":63,"d":52,"e":35,"f":-4,"g":-2,"h":-2,"i":0,"j":-2,"k":47,"l":61,"m":67,"n":59,"o":40,"p":-5,"q":-3,"r":-4,"s":0,"u":-2},
{"t":1997.5,"A":40,"B":46,"C":47,"D":33,"E":20,"F":0,"G":-2,"H":0,"I":0,"J":-2,"K":36,"L":48,"M":48,"N":39,"O":24,"P":-1,"Q":-3,"R":-4,"S":3,"U":2,"a":45,"b":48,"c":50,"d":40,"e":24,"f":-1,"g":-4,"h":-3,"i":-3,"j":-3,"k":45,"l":50,"m":52,"n":44,"o":28,"p":-2,"q":-5,"r":-3,"s":-1,"u":-3},
{"t":1997.75,"A":39,"B":43,"C":42,"D":28,"E":16,"F":-2,"G":-1,"H":-3,"I":1,"J":0,"K":39,"L":44,"M":41,"N":30,"O":16,"P":-2,"Q":-2,"R":-6,"S":0,"U":4,"a":41,"b":44,"c":45,"d":33,"e":18,"f":0,"g":-7,"h":-1,"i":-8,"j":-1,"k":44,"l":46,"m":47,"n":37,"o":23,"p":0,"q":-1,"r":-1,"s":-3,"u":-1},
{"t":1998,"A":44,"B":53,"C":56,"D":38,"E":30,"F":1,"G":-2,"H":-2,"I":-1,"J":1,"K":41,"L":52,"M":58,"N":44,"O":36,"P":0,"Q":-3,"R":-3,"S":-1,"U":3,"a":50,"b":53,"c":55,"d":43,"e":30,"f":-2,"g":-3,"h":-4,"i":-4,"j":-6,"k":51,"l":55,"m":58,"n":45,"o":33,"p":1,"q":-3,"r":-5,"s":-5,"u":-5},
{"t":1998.25,"A":45,"B":56,"C":62,"D":49,"E":40,"F":0,"G":-4,"H":0,"I":0,"J":2,"K":43,"L":58,"M":66,"N":58,"O":46,"P":-1,"Q":-4,"R":-5,"S":-2,"U":1,"a":52,"b":58,"c":60,"d":51,"e":40,"f":0,"g":-5,"h":-8,"i":-3,"j":-9,"k":53,"l":60,"m":65,"n":57,"o":42,"p":3,"q":-2,"r":-3,"s":-3,"u":-3},
{"t":1998.5,"A":41,"B":47,"C":47,"D":35,"E":22,"F":-1,"G":-1,"H":-1,"I":2,"J":3,"K":38,"L":46,"M":47,"N":36,"O":25,"P":-2,"Q":-5,"R":-8,"S":-3,"U":0,"a":48,"b":48,"c":48,"d":40,"e":24,"f":1,"g":-2,"h":-5,"i":-1,"j":-4,"k":50,"l":49,"m":51,"n":42,"o":29,"p":3,"q":-4,"r":-6,"s":-4,"u":-4},
{"t":1998.75,"A":40,"B":42,"C":41,"D":30,"E":18,"F":-3,"G":-3,"H":-3,"I":3,"J":5,"K":40,"L":42,"M":40,"N":28,"O":17,"P":-3,"Q":-6,"R":-10,"S":-2,"U":2,"a":54,"b":50,"c":45,"d":37,"e":22,"f":3,"g":0,"h":-4,"i":-2,"j":0,"k":48,"l":46,"m":46,"n":36,"o":24,"p":2,"q":-2,"r":-4,"s":-5,"u":-2},
{"t":1999,"A":43,"B":50,"C":53,"D":48,"E":38,"F":-1,"G":-6,"H":-4,"I":7,"J":8,"K":39,"L":50,"M":55,"N":42,"O":40,"P":-2,"Q":-7,"R":-14,"S":-5,"U":7},
{"t":1999.25,"A":44,"B":52,"C":58,"D":60,"E":46,"F":-2,"G":-5,"H":-5,"I":1,"J":5,"K":41,"L":55,"M":62,"N":56,"O":48,"P":-3,"Q":-8,"R":-8,"S":-3,"U":5},
{"t":1999.5,"A":40,"B":47,"C":46,"D":34,"E":24,"F":-3,"G":-3,"H":-3,"I":-2,"J":7,"K":36,"L":45,"M":46,"N":37,"O":26,"P":-1,"Q":-5,"R":-4,"S":-1,"U":3},
{"t":1999.75,"A":39,"B":45,"C":44,"D":28,"E":18,"F":-2,"G":-4,"H":-2,"I":-4,"J":3,"K":38,"L":40,"M":42,"N":29,"O":18,"P":-2,"Q":-3,"R":-3,"S":0,"U":1},
{"t":2000,"A":42,"B":46,"C":44,"D":30,"E":20,"F":-1,"G":-3,"H":-2,"I":-4,"J":0,"K":40,"L":45,"M":44,"N":32,"O":18,"P":-3,"Q":0,"R":-3,"S":0,"U":0}
]},
"spacing":23,
"vconcat":[
{"spacing":7,"title":{"text":"Edmonton\u00a0\u00a0\u00a0\u00a0\u00a0\u00a0\u00a0\u00a0\u00a0\u00a0\u00a0\u00a0\u00a0\u00a0\u00a0Obs v Edmonton\u00a0\u00a0\u00a0\u00a0\u00a0\u00a0\u00a0\u00a0\u00a03D CTM","orient":"bottom","anchor":"middle","frame":"bounds","fontSize":17.7,"color":"#444","offset":8,"dx":16},
"hconcat":[
{"vconcat":[
{"width":241,"height":66.5,"title":{"text":"Monthly Mean Column"},"resolve":{"axis":{"x":"independent","y":"independent"}},"layer":[{"mark":"line","encoding":{"x":{"field":"t","type":"quantitative","scale":{"domain":[1975,2000],"nice":false},"axis":{"labels":false,"title":null}},"y":{"field":"A","type":"quantitative","scale":{"domain":[0,80],"nice":false},"axis":{"values":[0,4,8,12,16,20,24,28,32,36,40,44,48,52,56,60,64,68,72,76,80],"title":"Column (DU)"}}}},{"mark":{"type":"line","color":"#111"},"encoding":{"x":{"field":"t","type":"quantitative","axis":{"orient":"top","labels":false,"title":null}},"y":{"field":"a","type":"quantitative","axis":{"orient":"right","values":[0,4,8,12,16,20,24,28,32,36,40,44,48,52,56,60,64,68,72,76,80],"labels":false,"title":null}}}},{"mark":"text","encoding":{"x":{"datum":1998.3,"type":"quantitative","axis":null},"y":{"datum":72.8,"type":"quantitative","axis":null},"text":{"value":"15-25 hPa"}}}]},
{"width":241,"height":66.5,"resolve":{"axis":{"x":"independent","y":"independent"}},"layer":[{"mark":"line","encoding":{"x":{"field":"t","type":"quantitative","scale":{"domain":[1975,2000],"nice":false},"axis":{"labels":false,"title":null}},"y":{"field":"B","type":"quantitative","scale":{"domain":[0,80],"nice":false},"axis":{"values":[0,4,8,12,16,20,24,28,32,36,40,44,48,52,56,60,64,68,72,76,80],"title":"Column (DU)"}}}},{"mark":{"type":"line","color":"#111"},"encoding":{"x":{"field":"t","type":"quantitative","axis":{"orient":"top","labels":false,"title":null}},"y":{"field":"b","type":"quantitative","axis":{"orient":"right","values":[0,4,8,12,16,20,24,28,32,36,40,44,48,52,56,60,64,68,72,76,80],"labels":false,"title":null}}}},{"mark":"text","encoding":{"x":{"datum":1998.3,"type":"quantitative","axis":null},"y":{"datum":60.8,"type":"quantitative","axis":null},"text":{"value":"25-40 hPa"}}}]},
{"width":241,"height":66.5,"resolve":{"axis":{"x":"independent","y":"independent"}},"layer":[{"mark":"line","encoding":{"x":{"field":"t","type":"quantitative","scale":{"domain":[1975,2000],"nice":false},"axis":{"labels":false,"title":null}},"y":{"field":"C","type":"quantitative","scale":{"domain":[0,80],"nice":false},"axis":{"values":[0,4,8,12,16,20,24,28,32,36,40,44,48,52,56,60,64,68,72,76,80],"title":"Column (DU)"}}}},{"mark":{"type":"line","color":"#111"},"encoding":{"x":{"field":"t","type":"quantitative","axis":{"orient":"top","labels":false,"title":null}},"y":{"field":"c","type":"quantitative","axis":{"orient":"right","values":[0,4,8,12,16,20,24,28,32,36,40,44,48,52,56,60,64,68,72,76,80],"labels":false,"title":null}}}},{"mark":"text","encoding":{"x":{"datum":1998.3,"type":"quantitative","axis":null},"y":{"datum":60.8,"type":"quantitative","axis":null},"text":{"value":"40-63 hPa"}}}]},
{"width":241,"height":66.5,"resolve":{"axis":{"x":"independent","y":"independent"}},"layer":[{"mark":"line","encoding":{"x":{"field":"t","type":"quantitative","scale":{"domain":[1975,2000],"nice":false},"axis":{"labels":false,"title":null}},"y":{"field":"D","type":"quantitative","scale":{"domain":[0,80],"nice":false},"axis":{"values":[0,4,8,12,16,20,24,28,32,36,40,44,48,52,56,60,64,68,72,76,80],"title":"Column (DU)"}}}},{"mark":{"type":"line","color":"#111"},"encoding":{"x":{"field":"t","type":"quantitative","axis":{"orient":"top","labels":false,"title":null}},"y":{"field":"d","type":"quantitative","axis":{"orient":"right","values":[0,4,8,12,16,20,24,28,32,36,40,44,48,52,56,60,64,68,72,76,80],"labels":false,"title":null}}}},{"mark":"text","encoding":{"x":{"datum":1998.3,"type":"quantitative","axis":null},"y":{"datum":60.8,"type":"quantitative","axis":null},"text":{"value":"63-100 hPa"}}}]},
{"width":241,"height":66.5,"resolve":{"axis":{"x":"independent","y":"independent"}},"layer":[{"mark":"line","encoding":{"x":{"field":"t","type":"quantitative","scale":{"domain":[1975,2000],"nice":false},"axis":{"title":"Year"}},"y":{"field":"E","type":"quantitative","scale":{"domain":[0,80],"nice":false},"axis":{"values":[0,4,8,12,16,20,24,28,32,36,40,44,48,52,56,60,64,68,72,76,80],"title":"Column (DU)"}}}},{"mark":{"type":"line","color":"#111"},"encoding":{"x":{"field":"t","type":"quantitative","axis":{"orient":"top","labels":false,"title":null}},"y":{"field":"e","type":"quantitative","axis":{"orient":"right","values":[0,4,8,12,16,20,24,28,32,36,40,44,48,52,56,60,64,68,72,76,80],"labels":false,"title":null}}}},{"mark":"text","encoding":{"x":{"datum":1998.3,"type":"quantitative","axis":null},"y":{"datum":60.8,"type":"quantitative","axis":null},"text":{"value":"100-158 hPa"}}}]}
],"spacing":0,"bounds":"flush"},
{"vconcat":[
{"width":241,"height":66.5,"title":{"text":"Anomaly (unsmoothed)"},"resolve":{"axis":{"x":"independent","y":"independent"}},"layer":[{"mark":"rule","encoding":{"y":{"datum":0,"type":"quantitative","axis":null}}},{"mark":"line","encoding":{"x":{"field":"t","type":"quantitative","scale":{"domain":[1975,2000],"nice":false},"axis":{"labels":false,"title":null}},"y":{"field":"F","type":"quantitative","scale":{"domain":[-20,20],"nice":false},"axis":{"values":[-20,-18,-16,-14,-12,-10,-8,-6,-4,-2,0,2,4,6,8,10,12,14,16,18,20],"title":"Column (DU)"}}}},{"mark":{"type":"line","color":"#111"},"encoding":{"x":{"field":"t","type":"quantitative","axis":{"orient":"top","labels":false,"title":null}},"y":{"field":"f","type":"quantitative","axis":{"orient":"right","values":[-20,-18,-16,-14,-12,-10,-8,-6,-4,-2,0,2,4,6,8,10,12,14,16,18,20],"labels":false,"title":null}}}},{"mark":"text","encoding":{"x":{"datum":1998.3,"type":"quantitative","axis":null},"y":{"datum":16,"type":"quantitative","axis":null},"text":{"value":"15-25 hPa"}}}]},
{"width":241,"height":66.5,"resolve":{"axis":{"x":"independent","y":"independent"}},"layer":[{"mark":"rule","encoding":{"y":{"datum":0,"type":"quantitative","axis":null}}},{"mark":"line","encoding":{"x":{"field":"t","type":"quantitative","scale":{"domain":[1975,2000],"nice":false},"axis":{"labels":false,"title":null}},"y":{"field":"G","type":"quantitative","scale":{"domain":[-20,20],"nice":false},"axis":{"values":[-20,-18,-16,-14,-12,-10,-8,-6,-4,-2,0,2,4,6,8,10,12,14,16,18,20],"title":"Column (DU)"}}}},{"mark":{"type":"line","color":"#111"},"encoding":{"x":{"field":"t","type":"quantitative","axis":{"orient":"top","labels":false,"title":null}},"y":{"field":"g","type":"quantitative","axis":{"orient":"right","values":[-20,-18,-16,-14,-12,-10,-8,-6,-4,-2,0,2,4,6,8,10,12,14,16,18,20],"labels":false,"title":null}}}},{"mark":"text","encoding":{"x":{"datum":1998.3,"type":"quantitative","axis":null},"y":{"datum":13.7,"type":"quantitative","axis":null},"text":{"value":"25-40 hPa"}}}]},
{"width":241,"height":66.5,"resolve":{"axis":{"x":"independent","y":"independent"}},"layer":[{"mark":"rule","encoding":{"y":{"datum":0,"type":"quantitative","axis":null}}},{"mark":"line","encoding":{"x":{"field":"t","type":"quantitative","scale":{"domain":[1975,2000],"nice":false},"axis":{"labels":false,"title":null}},"y":{"field":"H","type":"quantitative","scale":{"domain":[-20,20],"nice":false},"axis":{"values":[-20,-18,-16,-14,-12,-10,-8,-6,-4,-2,0,2,4,6,8,10,12,14,16,18,20],"title":"Column (DU)"}}}},{"mark":{"type":"line","color":"#111"},"encoding":{"x":{"field":"t","type":"quantitative","axis":{"orient":"top","labels":false,"title":null}},"y":{"field":"h","type":"quantitative","axis":{"orient":"right","values":[-20,-18,-16,-14,-12,-10,-8,-6,-4,-2,0,2,4,6,8,10,12,14,16,18,20],"labels":false,"title":null}}}},{"mark":"text","encoding":{"x":{"datum":1998.3,"type":"quantitative","axis":null},"y":{"datum":13.7,"type":"quantitative","axis":null},"text":{"value":"40-63 hPa"}}}]},
{"width":241,"height":66.5,"resolve":{"axis":{"x":"independent","y":"independent"}},"layer":[{"mark":"rule","encoding":{"y":{"datum":0,"type":"quantitative","axis":null}}},{"mark":"line","encoding":{"x":{"field":"t","type":"quantitative","scale":{"domain":[1975,2000],"nice":false},"axis":{"labels":false,"title":null}},"y":{"field":"I","type":"quantitative","scale":{"domain":[-20,20],"nice":false},"axis":{"values":[-20,-18,-16,-14,-12,-10,-8,-6,-4,-2,0,2,4,6,8,10,12,14,16,18,20],"title":"Column (DU)"}}}},{"mark":{"type":"line","color":"#111"},"encoding":{"x":{"field":"t","type":"quantitative","axis":{"orient":"top","labels":false,"title":null}},"y":{"field":"i","type":"quantitative","axis":{"orient":"right","values":[-20,-18,-16,-14,-12,-10,-8,-6,-4,-2,0,2,4,6,8,10,12,14,16,18,20],"labels":false,"title":null}}}},{"mark":"text","encoding":{"x":{"datum":1998.3,"type":"quantitative","axis":null},"y":{"datum":13.7,"type":"quantitative","axis":null},"text":{"value":"63-100 hPa"}}}]},
{"width":241,"height":66.5,"resolve":{"axis":{"x":"independent","y":"independent"}},"layer":[{"mark":"rule","encoding":{"y":{"datum":0,"type":"quantitative","axis":null}}},{"mark":"line","encoding":{"x":{"field":"t","type":"quantitative","scale":{"domain":[1975,2000],"nice":false},"axis":{"title":"Year"}},"y":{"field":"J","type":"quantitative","scale":{"domain":[-20,20],"nice":false},"axis":{"values":[-20,-18,-16,-14,-12,-10,-8,-6,-4,-2,0,2,4,6,8,10,12,14,16,18,20],"title":"Column (DU)"}}}},{"mark":{"type":"line","color":"#111"},"encoding":{"x":{"field":"t","type":"quantitative","axis":{"orient":"top","labels":false,"title":null}},"y":{"field":"j","type":"quantitative","axis":{"orient":"right","values":[-20,-18,-16,-14,-12,-10,-8,-6,-4,-2,0,2,4,6,8,10,12,14,16,18,20],"labels":false,"title":null}}}},{"mark":"text","encoding":{"x":{"datum":1998.3,"type":"quantitative","axis":null},"y":{"datum":13.7,"type":"quantitative","axis":null},"text":{"value":"100-158 hPa"}}}]}
],"spacing":0,"bounds":"flush"}
]},
{"spacing":7,"hconcat":[
{"vconcat":[
{"width":241,"height":66.5,"title":{"text":"Monthly Mean Column"},"resolve":{"axis":{"x":"independent","y":"independent"}},"layer":[{"mark":"line","encoding":{"x":{"field":"t","type":"quantitative","scale":{"domain":[1975,2000],"nice":false},"axis":{"labels":false,"title":null}},"y":{"field":"K","type":"quantitative","scale":{"domain":[0,80],"nice":false},"axis":{"values":[0,4,8,12,16,20,24,28,32,36,40,44,48,52,56,60,64,68,72,76,80],"title":"Column (DU)"}}}},{"mark":{"type":"line","color":"#111"},"encoding":{"x":{"field":"t","type":"quantitative","axis":{"orient":"top","labels":false,"title":null}},"y":{"field":"k","type":"quantitative","axis":{"orient":"right","values":[0,4,8,12,16,20,24,28,32,36,40,44,48,52,56,60,64,68,72,76,80],"labels":false,"title":null}}}},{"mark":"text","encoding":{"x":{"datum":1998.3,"type":"quantitative","axis":null},"y":{"datum":72.8,"type":"quantitative","axis":null},"text":{"value":"15-25 hPa"}}}]},
{"width":241,"height":66.5,"resolve":{"axis":{"x":"independent","y":"independent"}},"layer":[{"mark":"line","encoding":{"x":{"field":"t","type":"quantitative","scale":{"domain":[1975,2000],"nice":false},"axis":{"labels":false,"title":null}},"y":{"field":"L","type":"quantitative","scale":{"domain":[0,80],"nice":false},"axis":{"values":[0,4,8,12,16,20,24,28,32,36,40,44,48,52,56,60,64,68,72,76,80],"title":"Column (DU)"}}}},{"mark":{"type":"line","color":"#111"},"encoding":{"x":{"field":"t","type":"quantitative","axis":{"orient":"top","labels":false,"title":null}},"y":{"field":"l","type":"quantitative","axis":{"orient":"right","values":[0,4,8,12,16,20,24,28,32,36,40,44,48,52,56,60,64,68,72,76,80],"labels":false,"title":null}}}},{"mark":"text","encoding":{"x":{"datum":1998.3,"type":"quantitative","axis":null},"y":{"datum":62,"type":"quantitative","axis":null},"text":{"value":"25-40 hPa"}}}]},
{"width":241,"height":66.5,"resolve":{"axis":{"x":"independent","y":"independent"}},"layer":[{"mark":"line","encoding":{"x":{"field":"t","type":"quantitative","scale":{"domain":[1975,2000],"nice":false},"axis":{"labels":false,"title":null}},"y":{"field":"M","type":"quantitative","scale":{"domain":[0,80],"nice":false},"axis":{"values":[0,4,8,12,16,20,24,28,32,36,40,44,48,52,56,60,64,68,72,76,80],"title":"Column (DU)"}}}},{"mark":{"type":"line","color":"#111"},"encoding":{"x":{"field":"t","type":"quantitative","axis":{"orient":"top","labels":false,"title":null}},"y":{"field":"m","type":"quantitative","axis":{"orient":"right","values":[0,4,8,12,16,20,24,28,32,36,40,44,48,52,56,60,64,68,72,76,80],"labels":false,"title":null}}}},{"mark":"text","encoding":{"x":{"datum":1998.3,"type":"quantitative","axis":null},"y":{"datum":62,"type":"quantitative","axis":null},"text":{"value":"40-63 hPa"}}}]},
{"width":241,"height":66.5,"resolve":{"axis":{"x":"independent","y":"independent"}},"layer":[{"mark":"line","encoding":{"x":{"field":"t","type":"quantitative","scale":{"domain":[1975,2000],"nice":false},"axis":{"labels":false,"title":null}},"y":{"field":"N","type":"quantitative","scale":{"domain":[0,80],"nice":false},"axis":{"values":[0,4,8,12,16,20,24,28,32,36,40,44,48,52,56,60,64,68,72,76,80],"title":"Column (DU)"}}}},{"mark":{"type":"line","color":"#111"},"encoding":{"x":{"field":"t","type":"quantitative","axis":{"orient":"top","labels":false,"title":null}},"y":{"field":"n","type":"quantitative","axis":{"orient":"right","values":[0,4,8,12,16,20,24,28,32,36,40,44,48,52,56,60,64,68,72,76,80],"labels":false,"title":null}}}},{"mark":"text","encoding":{"x":{"datum":1998.3,"type":"quantitative","axis":null},"y":{"datum":62,"type":"quantitative","axis":null},"text":{"value":"63-100 hPa"}}}]},
{"width":241,"height":66.5,"resolve":{"axis":{"x":"independent","y":"independent"}},"layer":[{"mark":"line","encoding":{"x":{"field":"t","type":"quantitative","scale":{"domain":[1975,2000],"nice":false},"axis":{"title":"Year"}},"y":{"field":"O","type":"quantitative","scale":{"domain":[0,80],"nice":false},"axis":{"values":[0,4,8,12,16,20,24,28,32,36,40,44,48,52,56,60,64,68,72,76,80],"title":"Column (DU)"}}}},{"mark":{"type":"line","color":"#111"},"encoding":{"x":{"field":"t","type":"quantitative","axis":{"orient":"top","labels":false,"title":null}},"y":{"field":"o","type":"quantitative","axis":{"orient":"right","values":[0,4,8,12,16,20,24,28,32,36,40,44,48,52,56,60,64,68,72,76,80],"labels":false,"title":null}}}},{"mark":"text","encoding":{"x":{"datum":1998.3,"type":"quantitative","axis":null},"y":{"datum":62,"type":"quantitative","axis":null},"text":{"value":"100-158 hPa"}}}]}
],"spacing":0,"bounds":"flush"},
{"vconcat":[
{"width":241,"height":66.5,"title":{"text":"Anomaly (unsmoothed)"},"resolve":{"axis":{"x":"independent","y":"independent"}},"layer":[{"mark":"rule","encoding":{"y":{"datum":0,"type":"quantitative","axis":null}}},{"mark":"line","encoding":{"x":{"field":"t","type":"quantitative","scale":{"domain":[1975,2000],"nice":false},"axis":{"labels":false,"title":null}},"y":{"field":"P","type":"quantitative","scale":{"domain":[-20,20],"nice":false},"axis":{"values":[-20,-18,-16,-14,-12,-10,-8,-6,-4,-2,0,2,4,6,8,10,12,14,16,18,20],"title":"Column (DU)"}}}},{"mark":{"type":"line","color":"#111"},"encoding":{"x":{"field":"t","type":"quantitative","axis":{"orient":"top","labels":false,"title":null}},"y":{"field":"p","type":"quantitative","axis":{"orient":"right","values":[-20,-18,-16,-14,-12,-10,-8,-6,-4,-2,0,2,4,6,8,10,12,14,16,18,20],"labels":false,"title":null}}}},{"mark":"text","encoding":{"x":{"datum":1998.3,"type":"quantitative","axis":null},"y":{"datum":16,"type":"quantitative","axis":null},"text":{"value":"15-25 hPa"}}}]},
{"width":241,"height":66.5,"resolve":{"axis":{"x":"independent","y":"independent"}},"layer":[{"mark":"rule","encoding":{"y":{"datum":0,"type":"quantitative","axis":null}}},{"mark":"line","encoding":{"x":{"field":"t","type":"quantitative","scale":{"domain":[1975,2000],"nice":false},"axis":{"labels":false,"title":null}},"y":{"field":"Q","type":"quantitative","scale":{"domain":[-20,20],"nice":false},"axis":{"values":[-20,-18,-16,-14,-12,-10,-8,-6,-4,-2,0,2,4,6,8,10,12,14,16,18,20],"title":"Column (DU)"}}}},{"mark":{"type":"line","color":"#111"},"encoding":{"x":{"field":"t","type":"quantitative","axis":{"orient":"top","labels":false,"title":null}},"y":{"field":"q","type":"quantitative","axis":{"orient":"right","values":[-20,-18,-16,-14,-12,-10,-8,-6,-4,-2,0,2,4,6,8,10,12,14,16,18,20],"labels":false,"title":null}}}},{"mark":"text","encoding":{"x":{"datum":1998.3,"type":"quantitative","axis":null},"y":{"datum":13.7,"type":"quantitative","axis":null},"text":{"value":"25-40 hPa"}}}]},
{"width":241,"height":66.5,"resolve":{"axis":{"x":"independent","y":"independent"}},"layer":[{"mark":"rule","encoding":{"y":{"datum":0,"type":"quantitative","axis":null}}},{"mark":"line","encoding":{"x":{"field":"t","type":"quantitative","scale":{"domain":[1975,2000],"nice":false},"axis":{"labels":false,"title":null}},"y":{"field":"R","type":"quantitative","scale":{"domain":[-20,20],"nice":false},"axis":{"values":[-20,-18,-16,-14,-12,-10,-8,-6,-4,-2,0,2,4,6,8,10,12,14,16,18,20],"title":"Column (DU)"}}}},{"mark":{"type":"line","color":"#111"},"encoding":{"x":{"field":"t","type":"quantitative","axis":{"orient":"top","labels":false,"title":null}},"y":{"field":"r","type":"quantitative","axis":{"orient":"right","values":[-20,-18,-16,-14,-12,-10,-8,-6,-4,-2,0,2,4,6,8,10,12,14,16,18,20],"labels":false,"title":null}}}},{"mark":"text","encoding":{"x":{"datum":1998.3,"type":"quantitative","axis":null},"y":{"datum":13.7,"type":"quantitative","axis":null},"text":{"value":"40-63 hPa"}}}]},
{"width":241,"height":66.5,"resolve":{"axis":{"x":"independent","y":"independent"}},"layer":[{"mark":"rule","encoding":{"y":{"datum":0,"type":"quantitative","axis":null}}},{"mark":"line","encoding":{"x":{"field":"t","type":"quantitative","scale":{"domain":[1975,2000],"nice":false},"axis":{"labels":false,"title":null}},"y":{"field":"S","type":"quantitative","scale":{"domain":[-20,20],"nice":false},"axis":{"values":[-20,-18,-16,-14,-12,-10,-8,-6,-4,-2,0,2,4,6,8,10,12,14,16,18,20],"title":"Column (DU)"}}}},{"mark":{"type":"line","color":"#111"},"encoding":{"x":{"field":"t","type":"quantitative","axis":{"orient":"top","labels":false,"title":null}},"y":{"field":"s","type":"quantitative","axis":{"orient":"right","values":[-20,-18,-16,-14,-12,-10,-8,-6,-4,-2,0,2,4,6,8,10,12,14,16,18,20],"labels":false,"title":null}}}},{"mark":"text","encoding":{"x":{"datum":1998.3,"type":"quantitative","axis":null},"y":{"datum":13.7,"type":"quantitative","axis":null},"text":{"value":"63-100 hPa"}}}]},
{"width":241,"height":66.5,"resolve":{"axis":{"x":"independent","y":"independent"}},"layer":[{"mark":"rule","encoding":{"y":{"datum":0,"type":"quantitative","axis":null}}},{"mark":"line","encoding":{"x":{"field":"t","type":"quantitative","scale":{"domain":[1975,2000],"nice":false},"axis":{"title":"Year"}},"y":{"field":"U","type":"quantitative","scale":{"domain":[-20,20],"nice":false},"axis":{"values":[-20,-18,-16,-14,-12,-10,-8,-6,-4,-2,0,2,4,6,8,10,12,14,16,18,20],"title":"Column (DU)"}}}},{"mark":{"type":"line","color":"#111"},"encoding":{"x":{"field":"t","type":"quantitative","axis":{"orient":"top","labels":false,"title":null}},"y":{"field":"u","type":"quantitative","axis":{"orient":"right","values":[-20,-18,-16,-14,-12,-10,-8,-6,-4,-2,0,2,4,6,8,10,12,14,16,18,20],"labels":false,"title":null}}}},{"mark":"text","encoding":{"x":{"datum":1998.3,"type":"quantitative","axis":null},"y":{"datum":13.7,"type":"quantitative","axis":null},"text":{"value":"100-158 hPa"}}}]}
],"spacing":0,"bounds":"flush"}
]}
]
}
